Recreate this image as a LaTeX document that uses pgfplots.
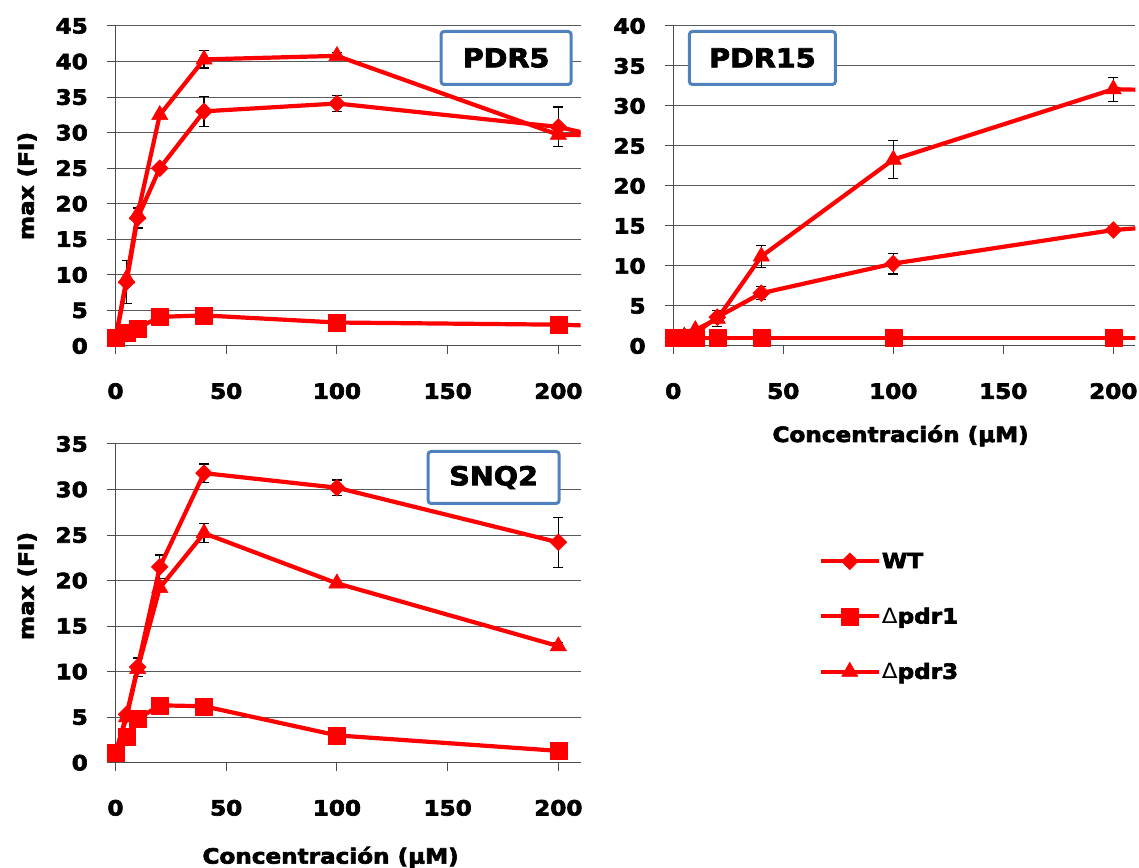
\documentclass[border=0pt]{standalone}
\usepackage{fontspec}
\setmainfont{DejaVu Sans}[FakeStretch=1.1, BoldFeatures={FakeBold=3}]
\usepackage{pgfplots}
\pgfplotsset{compat=1.18}

\definecolor{boxblue}{HTML}{4F81BD}
\newcommand{\chartfont}{\fontsize{21}{21}\selectfont\bfseries}

\pgfplotsset{
  panel/.style={
    scale only axis,
    xmin=0, xmax=210, ymin=0,
    xtick={0,50,100,150,200},
    axis lines*=left,
    axis line style={black!70, line width=1pt},
    ymajorgrids,
    grid style={black!65, line width=1pt},
    tick align=outside,
    major tick length=8.5pt,
    tick style={black!70, line width=1pt},
    /pgf/number format/assume math mode=true,
    ticklabel style={font=\chartfont},
    xticklabel style={anchor=north, inner sep=0pt, yshift=-28.5pt},
    yticklabel style={anchor=east, inner sep=0pt, xshift=-19pt},
    label style={font=\chartfont},
  },
  wt/.style={red, line width=4.2pt, line join=round, mark=square*, mark size=6pt,
    mark options={rotate=45, fill=red, draw=red, line width=0.4pt}},
  pone/.style={red, line width=4.2pt, line join=round, mark=square*, mark size=8.5pt,
    mark options={fill=red, draw=red, line width=0.4pt}},
  pthree/.style={red, line width=4.2pt, line join=round, mark=triangle*, mark size=9.5pt,
    mark options={fill=red, draw=red, line width=0.4pt}},
  ext/.style={red, line width=4.2pt, no marks, forget plot},
  ebar/.style={forget plot, draw=none, mark=none,
    error bars/.cd, y dir=both, y explicit,
    error bar style={draw=black, line width=1.2pt},
    error mark options={rotate=90, draw=black, mark size=5pt, line width=1.2pt}},
}

\begin{document}
\begin{tikzpicture}[x=1pt, y=1pt]
\path[use as bounding box] (0,0) rectangle (1139,867);

% ---------------- PDR5 ----------------
\begin{axis}[panel, at={(115.5pt,521pt)}, anchor=south west,
  width=465pt, height=320pt, ymax=45, ytick distance=5,
  ylabel={max (FI)},
  every axis y label/.style={at={(rel axis cs:-0.19,0.5)}, rotate=90, anchor=center, font=\chartfont}]
  \addplot[ext] coordinates {(200,30.8) (250,27.3)};
  \addplot[ext] coordinates {(200,3.0) (250,2.5)};
  \addplot[ext] coordinates {(200,29.7) (250,29.5)};
  \addplot[ebar] table[x index=0, y index=1, y error index=2] {
    5   9.0  3.0
    10  18.0 1.4
    40  33.0 2.1
    100 34.1 1.1
    200 30.8 2.8
  };
  \addplot[ebar] table[x index=0, y index=1, y error index=2] {
    40  40.3 1.2
    100 40.8 0.5
  };
  \addplot[wt] coordinates {(0,1.0) (5,9.0) (10,18.0) (20,25.0) (40,33.0) (100,34.1) (200,30.8)};
  \addplot[pone] coordinates {(0,1.1) (5,1.9) (10,2.5) (20,4.1) (40,4.3) (100,3.3) (200,3.0)};
  \addplot[pthree] coordinates {(0,1.0) (5,9.5) (10,18.5) (20,32.5) (40,40.3) (100,40.8) (200,29.7)};
\end{axis}

% ---------------- PDR15 ----------------
\begin{axis}[panel, at={(673.3pt,521pt)}, anchor=south west,
  width=462pt, height=320pt, ymax=40, ytick distance=5,
  xlabel={Concentración (µM)},
  every axis x label/.style={at={(rel axis cs:0.492,-0.30)}, anchor=base, font=\chartfont}]
  \addplot[ext] coordinates {(200,14.5) (250,15.5)};
  \addplot[ext] coordinates {(200,1.0) (250,1.0)};
  \addplot[ext] coordinates {(200,32.1) (250,31.8)};
  \addplot[ebar] table[x index=0, y index=1, y error index=2] {
    40  6.6  0.8
    100 10.3 1.3
  };
  \addplot[ebar] table[x index=0, y index=1, y error index=2] {
    20  3.4  1.0
    40  11.2 1.4
    100 23.3 2.4
    200 32.1 1.5
  };
  \addplot[wt] coordinates {(0,1.0) (5,1.2) (10,1.6) (20,3.6) (40,6.6) (100,10.3) (200,14.5)};
  \addplot[pone] coordinates {(0,1.0) (5,1.0) (10,1.0) (20,1.0) (40,1.0) (100,1.0) (200,1.0)};
  \addplot[pthree] coordinates {(0,1.0) (5,1.2) (10,2.0) (20,3.4) (40,11.2) (100,23.3) (200,32.1)};
\end{axis}

% ---------------- SNQ2 ----------------
\begin{axis}[panel, at={(115.5pt,104.3pt)}, anchor=south west,
  width=465pt, height=318.7pt, ymax=35, ytick distance=5,
  ylabel={max (FI)},
  every axis y label/.style={at={(rel axis cs:-0.19,0.5545)}, rotate=90, anchor=center, font=\chartfont},
  xlabel={Concentración (µM)},
  every axis x label/.style={at={(rel axis cs:0.4626,-0.3166)}, anchor=base, font=\chartfont},
  legend style={at={(rel axis cs:1.5122,0.6628)}, anchor=north west,
    draw=none, fill=none, inner sep=0pt, row sep=35.5pt,
    font=\chartfont, nodes={inner sep=1.2pt}},
  legend cell align=left,
  legend image code/.code={\draw[mark repeat=2, mark phase=2]
    plot coordinates {(0pt,0pt) (28.8pt,0pt) (57.6pt,0pt)};}]
  \addplot[ebar] table[x index=0, y index=1, y error index=2] {
    10  10.5 1.0
    20  21.5 1.3
    40  31.8 1.0
    100 30.2 0.85
    200 24.2 2.75
  };
  \addplot[ebar] table[x index=0, y index=1, y error index=2] {
    40  25.2 1.05
    200 12.8 0.4
  };
  \addplot[wt] coordinates {(0,1.0) (5,5.3) (10,10.5) (20,21.5) (40,31.8) (100,30.2) (200,24.2)};
  \addlegendentry{WT}
  \addplot[pone] coordinates {(0,1.1) (5,2.9) (10,4.8) (20,6.3) (40,6.2) (100,3.0) (200,1.3)};
  \addlegendentry{{\mdseries Δ}pdr1}
  \addplot[pthree] coordinates {(0,1.0) (5,5.0) (10,10.3) (20,19.2) (40,25.2) (100,19.7) (200,12.8)};
  \addlegendentry{{\mdseries Δ}pdr3}
\end{axis}

% panel titles
\tikzset{ptitle/.style={draw=boxblue, line width=3pt, rounded corners=3pt, fill=white,
  inner sep=0pt, font=\fontsize{26}{26}\selectfont\bfseries}}
\node[ptitle, minimum width=130pt, minimum height=53pt] at (506.1,809) {PDR5};
\node[ptitle, minimum width=146pt, minimum height=53pt] at (762.4,809) {PDR15};
\node[ptitle, minimum width=131pt, minimum height=52pt] at (493.6,389.5) {SNQ2};
\end{tikzpicture}
\end{document}
